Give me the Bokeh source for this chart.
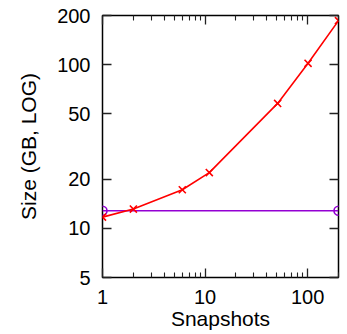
from bokeh.plotting import figure
from bokeh.models import LogAxis, FixedTicker, Range1d, BasicTickFormatter
from bokeh.embed import file_html
from bokeh.resources import INLINE

snap_x = [1, 2, 6, 11, 51, 101, 200]
snap_size = [11.7, 13.1, 17.2, 21.9, 58, 102, 186]
base_x = [1, 200]
base_size = [12.8, 12.8]

x_major = [1, 10, 100]
x_minor = [2, 3, 4, 5, 6, 7, 8, 9, 20, 30, 40, 50, 60, 70, 80, 90, 200]
y_major = [5, 10, 20, 50, 100, 200]

FONT = "Liberation Sans"
FS = "20px"
FL = "21px"

p = figure(width=342, height=334, x_axis_type="log", y_axis_type="log",
           x_range=Range1d(1, 200), y_range=Range1d(5, 200),
           output_backend="svg", toolbar_location=None,
           min_border_left=102, min_border_right=4, min_border_top=15, min_border_bottom=57)

p.grid.visible = False
p.outline_line_color = "black"
p.outline_line_width = 1.5

def style(ax, labels=True):
    ax.axis_line_color = None
    ax.major_tick_in = 9
    ax.major_tick_out = 0
    ax.minor_tick_in = 5
    ax.minor_tick_out = 0
    ax.major_tick_line_color = "#222222"
    ax.minor_tick_line_color = "#222222"
    ax.major_tick_line_width = 1.3
    ax.minor_tick_line_width = 1.1
    ax.major_label_text_font = FONT
    ax.major_label_text_font_size = FS if labels else "1px"
    ax.major_label_text_color = "black"
    if not labels:
        ax.major_label_text_alpha = 0
    ax.axis_label_text_font = FONT
    ax.axis_label_text_font_size = FL
    ax.axis_label_text_font_style = "normal"
    ax.axis_label_text_color = "black"

p.xaxis.ticker = FixedTicker(ticks=x_major, minor_ticks=x_minor)
p.yaxis.ticker = FixedTicker(ticks=y_major, minor_ticks=[])
p.xaxis.formatter = BasicTickFormatter()
p.yaxis.formatter = BasicTickFormatter()
style(p.xaxis[0])
style(p.yaxis[0])
p.xaxis.axis_label = "Snapshots"
p.yaxis.axis_label = "Size (GB, LOG)"
p.xaxis.major_label_standoff = 12
p.xaxis.axis_label_standoff = 0
p.yaxis.major_label_standoff = 12
p.yaxis.axis_label_standoff = 14

top = LogAxis(ticker=FixedTicker(ticks=x_major, minor_ticks=x_minor))
right = LogAxis(ticker=FixedTicker(ticks=y_major, minor_ticks=[]))
style(top, labels=False)
style(right, labels=False)
top.major_label_standoff = 0
right.major_label_standoff = 0
p.add_layout(top, "above")
p.add_layout(right, "right")

p.line(base_x, base_size, line_color="#9400d3", line_width=1.6)
p.scatter(base_x, base_size, marker="circle", size=9, fill_color=None,
          line_color="#9400d3", line_width=1.6)
p.line(snap_x, snap_size, line_color="#ff0000", line_width=1.6)
p.scatter(snap_x, snap_size, marker="x", size=10, line_color="#ff0000", line_width=1.6)

open("out.html", "w").write(file_html(p, INLINE))
